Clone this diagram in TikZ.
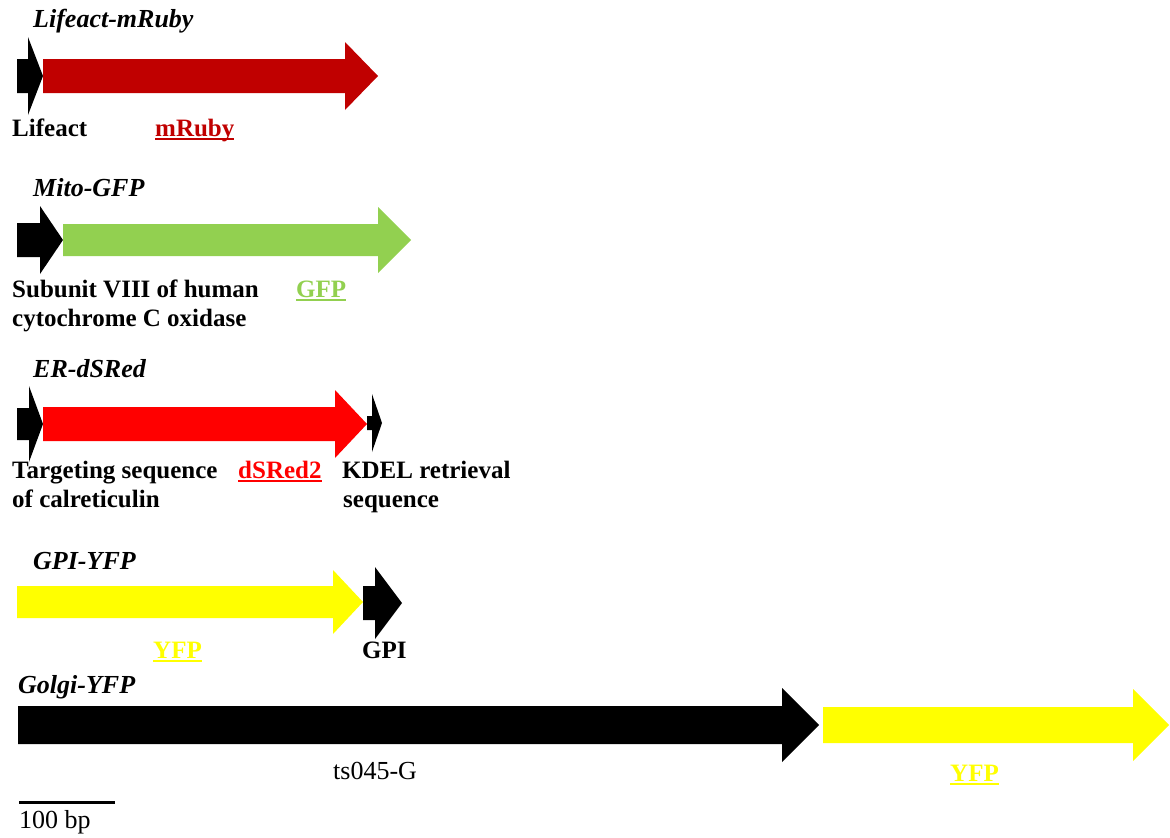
\documentclass[tikz,border=0pt]{standalone}
\usepackage{fontspec}
\setmainfont{Liberation Serif}
\definecolor{ruby}{HTML}{C00000}
\definecolor{dsred}{HTML}{FF0000}
\definecolor{gfp}{HTML}{92D050}
\definecolor{yfp}{HTML}{FFFF00}
\newcommand\myul[1]{\setbox0\hbox{#1}\rlap{\rule[-4pt]{\wd0}{1.8pt}}\box0}
% \gene{start}{head back}{tip}{y centre}{body half}{head half}{colour}
\newcommand\gene[7]{\fill[#7] (#1,{#4-#5}) -- (#2,{#4-#5}) -- (#2,{#4-#6}) -- (#3,#4) -- (#2,{#4+#6}) -- (#2,{#4+#5}) -- (#1,{#4+#5}) -- cycle;}
\tikzset{
  ttl/.style={anchor=base west, inner sep=0pt, font=\fontsize{26}{30}\selectfont\bfseries\itshape},
  lbl/.style={anchor=base west, inner sep=0pt, align=left, font=\fontsize{25}{29}\selectfont\bfseries},
  plain/.style={anchor=base west, inner sep=0pt, font=\fontsize{26}{30}\selectfont},
}
\begin{document}
\begin{tikzpicture}[x=1pt,y=-1pt]
\useasboundingbox (0,0) rectangle (1170,838);
% Lifeact-mRuby
\node[ttl] (t1) at (33,27) {Lifeact-mRuby};
\gene{17}{28}{43}{76}{17}{39}{black}
\gene{43}{345}{378}{76}{17}{34}{ruby}
\node[lbl] (l1a) at (12,136) {Lifeact};
\node[lbl, text=ruby] (l1b) at (155,136) {\myul{mRuby}};
% Mito-GFP
\node[ttl] (t2) at (33,196) {Mito-GFP};
\gene{17}{40}{63}{240}{17}{34}{black}
\gene{63}{378}{411}{240}{16}{33}{gfp}
\node[lbl] (l2a) at (12,297) {Subunit VIII of human};
\node[lbl] (l2b) at (12,326) {cytochrome C oxidase};
\node[lbl, text=gfp] (l2c) at (296,297) {\myul{GFP}};
% ER-dSRed
\node[ttl] (t3) at (33,377) {ER-dSRed};
\gene{17}{29}{43}{424}{16}{38}{black}
\gene{43}{335}{367}{424}{17}{34}{dsred}
\gene{367}{372}{382}{423}{7}{29}{black}
\node[lbl] (l3a) at (12,478) {Targeting sequence};
\node[lbl] (l3b) at (12,507) {of calreticulin};
\node[lbl, text=dsred] (l3c) at (238,478) {\myul{dSRed2}};
\node[lbl] (l3d) at (342,478) {KDEL retrieval};
\node[lbl] (l3e) at (343,507) {sequence};
% GPI-YFP
\node[ttl] (t4) at (33,569) {GPI-YFP};
\gene{17}{333}{363}{602}{16}{32}{yfp}
\gene{363}{375}{402}{603}{17}{36}{black}
\node[lbl, text=yfp] (l4a) at (153,658) {\myul{YFP}};
\node[lbl] (l4b) at (362,658) {GPI};
% Golgi-YFP
\node[ttl] (t5) at (18,693) {Golgi-YFP};
\gene{18}{782}{819}{725}{19}{37}{black}
\gene{823}{1133}{1169}{725}{18}{36}{yfp}
\node[plain] (l5a) at (333,779) {ts045-G};
\node[lbl, text=yfp] (l5b) at (950,781) {\myul{YFP}};
% scale bar
\coordinate (s0) at (19,802);
\coordinate (s1) at (115,802);
\draw[line width=3pt] (s0) -- (s1);
\node[plain] (sb) at (19,828) {100 bp};
\end{tikzpicture}
\end{document}
